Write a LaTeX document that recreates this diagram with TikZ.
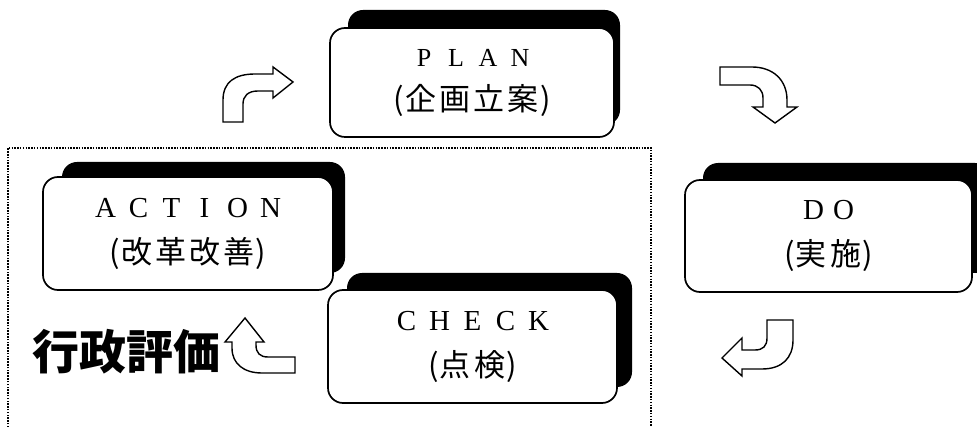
\documentclass[tikz,border=0pt]{standalone}
\usepackage{fontspec}
\newfontfamily\jp{Noto Sans CJK JP}
\newfontfamily\lat{Liberation Serif}
\newcommand{\cells}[2]{\def\do##1{\makebox[#1]{##1}}\cellsaux#2\relax}
\def\cellsaux#1{\ifx#1\relax\else\do{#1}\expandafter\cellsaux\fi}
\newcommand{\spaced}[2]{{\lat\cells{#1}{#2}}}
\newcommand{\jpparen}[1]{{\jp\fontsize{31}{31}\selectfont(\cells{34pt}{#1})}}
\begin{document}
\begin{tikzpicture}[x=1pt,y=-1pt,
  box/.style={draw=black, line width=1.7pt, fill=white, rounded corners=15pt,
    minimum width=#1, inner sep=0pt, align=center,
    font=\fontsize{29}{46}\selectfont},
  shade/.style={fill=black, rounded corners=15pt},
  blockarrow/.style={draw=black, line width=1.4pt, fill=white, line join=miter},
  frame/.style={line width=1.7pt, dash pattern=on 1.5pt off 1.3pt}
]
\useasboundingbox (0,0) rectangle (977,427);
% dotted frame
\coordinate (f1) at (8,148);
\coordinate (f2) at (651,148);
\coordinate (f3) at (651,430);
\coordinate (f4) at (8,430);
\draw[frame] (f4) -- (f1) -- (f2) -- (f3);

% shadows
\fill[shade] (348,10) rectangle (620,125);
\fill[shade] (62,162) rectangle (345,273);
\fill[shade] (703,163) rectangle (990,273);
\fill[shade] (347,273) rectangle (632,387);

% boxes
\node[box=284pt, minimum height=109pt] (plan) at (472,82.5)
  {{\fontsize{26}{26}\selectfont\spaced{32pt}{PLAN}}\\[-2pt]\jpparen{企画立案}};
\node[box=290pt, minimum height=113pt] (action) at (188,233.5)
  {\spaced{33pt}{ACTION}\\\jpparen{改革改善}};
\node[box=287pt, minimum height=112pt] (do) at (828.5,236)
  {\spaced{30pt}{DO}\\\jpparen{実施}};
\node[box=289pt, minimum height=113pt] (check) at (472.5,346.5)
  {\spaced{33pt}{CHECK}\\\jpparen{点検}};

% block arrows
\draw[blockarrow] (223,122) -- (223,100) .. controls (223,82) and (235,74) .. (255,74)
  -- (273,74) -- (273,67) -- (293,82) -- (273,98) -- (273,91) -- (258,91)
  .. controls (248,91) and (243,96) .. (243,104) -- (243,122) -- cycle;
\draw[blockarrow] (720,67) -- (752,67) .. controls (773,67) and (787,80) .. (787,100)
  -- (787,107) -- (797,107) -- (775,123) -- (753,107) -- (763,107) -- (763,98)
  .. controls (763,90) and (758,85) .. (750,85) -- (720,85) -- cycle;
\draw[blockarrow] (767,320) -- (793,320) -- (793,340) .. controls (793,358) and (782,369) .. (762,369)
  -- (742,369) -- (742,376) -- (722,358) -- (742,338) -- (742,350) -- (755,350)
  .. controls (763,350) and (767,346) .. (767,338) -- cycle;
\draw[blockarrow] (295,357) -- (268,357) .. controls (260,357) and (256,353) .. (256,345)
  -- (256,342) -- (264,342) -- (245,318) -- (225,342) -- (232,342) -- (232,348)
  .. controls (232,364) and (244,373) .. (262,373) -- (295,373) -- cycle;

% label
\node[font=\jp\bfseries\fontsize{47}{47}\selectfont, inner sep=0pt, anchor=west] (eval) at (32,352) {行政評価};
\end{tikzpicture}
\end{document}
